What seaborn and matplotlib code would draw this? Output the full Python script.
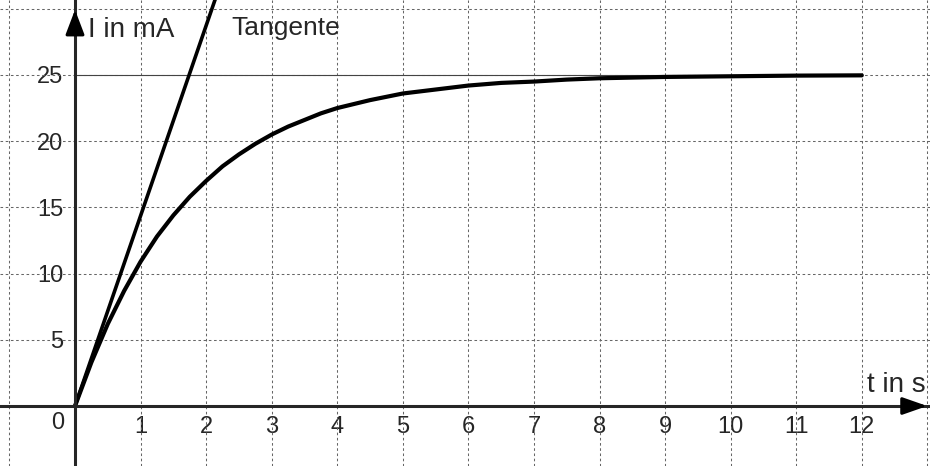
import matplotlib
matplotlib.use("Agg")
import seaborn as sns
import matplotlib.pyplot as plt
import pandas as pd

# values
t_s = [0.0, 0.25, 0.5, 0.75, 1.0, 1.25, 1.5, 1.75, 2.0, 2.25, 2.5, 2.75, 3.0,
       3.25, 3.5, 3.75, 4.0, 4.5, 5.0, 5.5, 6.0, 6.5, 7.0, 7.5, 8.0, 9.0,
       10.0, 11.0, 12.0]
i_mA = [0.0, 3.3, 6.2, 8.7, 10.9, 12.8, 14.4, 15.8, 17.0, 18.1, 19.0, 19.8,
        20.5, 21.1, 21.6, 22.1, 22.5, 23.1, 23.6, 23.9, 24.2, 24.4, 24.5,
        24.65, 24.75, 24.85, 24.9, 24.95, 24.97]
tangent_t = [0.0, 2.2]
tangent_i = [0.0, 31.6]
i_max = 25

x_ticks = list(range(1, 13))
y_ticks = [5, 10, 15, 20, 25]
grid_x = list(range(-1, 14))
grid_y = [5, 10, 15, 20, 25, 30]

df_curve = pd.DataFrame({"t": t_s, "I": i_mA})
df_tan = pd.DataFrame({"t": tangent_t, "I": tangent_i})

sns.set_style("white")
plt.rcParams["font.family"] = ["Liberation Sans", "DejaVu Sans"]

fig = plt.figure(figsize=(9.3, 4.66), dpi=100)
ax = fig.add_axes([0, 0, 1, 1])
ax.set_xlim(-1.144, 13.04)
ax.set_ylim(-4.53, 30.66)

# dashed grid
for gx in grid_x:
    ax.axvline(gx, color="#666666", lw=0.75, ls=(0, (2.5, 2.5)), zorder=1)
for gy in grid_y:
    ax.axhline(gy, color="#666666", lw=0.75, ls=(0, (2.5, 2.5)), zorder=1)

# asymptote
ax.plot([0, 12], [i_max, i_max], color="#444444", lw=0.8, zorder=2)

sns.lineplot(data=df_curve, x="t", y="I", ax=ax, color="black", lw=3.0,
             sort=False, zorder=4)
sns.lineplot(data=df_tan, x="t", y="I", ax=ax, color="black", lw=2.6,
             sort=False, zorder=4)

# axes through origin
for s in ["top", "right"]:
    ax.spines[s].set_visible(False)
ax.spines["left"].set_position(("data", 0))
ax.spines["bottom"].set_position(("data", 0))
ax.spines["left"].set_linewidth(2.2)
ax.spines["bottom"].set_linewidth(2.2)
ax.spines["left"].set_zorder(5)
ax.spines["bottom"].set_zorder(5)
ax.set_xticks(x_ticks)
ax.set_yticks(y_ticks)
ax.tick_params(axis="both", direction="inout", length=7, width=2, labelsize=17)
ax.tick_params(axis="x", pad=4)
ax.tick_params(axis="y", pad=5)
ax.set_xlabel("")
ax.set_ylabel("")

ax.annotate("", xy=(1.0, 0), xytext=(0.97, 0),
            xycoords=("axes fraction", "data"),
            arrowprops=dict(arrowstyle="-|>,head_length=1.0,head_width=0.35",
                            mutation_scale=15, color="black", lw=2.2),
            zorder=6)
ax.annotate("", xy=(0, 0.985), xytext=(0, 0.95),
            xycoords=("data", "axes fraction"),
            arrowprops=dict(arrowstyle="-|>,head_length=1.0,head_width=0.38",
                            mutation_scale=15, color="black", lw=2.2),
            zorder=6)

ax.text(-0.26, -1.3, "0", fontsize=17, ha="center", va="center")
ax.text(0.2, 27.9, "I in mA", fontsize=20, ha="left", va="baseline")
ax.text(2.39, 28.0, "Tangente", fontsize=19, ha="left", va="baseline")
ax.text(12.08, 1.06, "t in s", fontsize=20, ha="left", va="baseline")

fig.savefig("out.png", dpi=100)
